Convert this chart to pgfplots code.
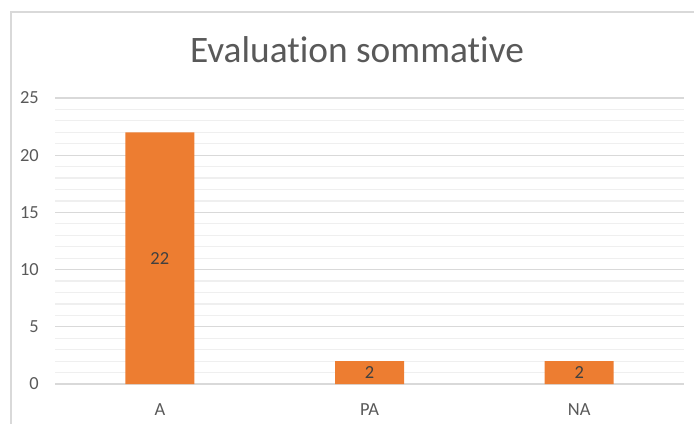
\documentclass[border=0pt]{standalone}
\usepackage{pgfplots}
\pgfplotsset{compat=1.18}
\usepackage{fontspec}
\setmainfont{Carlito}[Ligatures={NoCommon}]
\definecolor{barorange}{HTML}{ED7D31}
\definecolor{txtgray}{HTML}{595959}
\definecolor{lbldark}{HTML}{404040}
\definecolor{gridmaj}{HTML}{D9D9D9}
\definecolor{gridmin}{HTML}{EFEFEF}
\begin{document}
\begin{tikzpicture}[x=1bp,y=1bp]
\useasboundingbox (0,0) rectangle (694,423);
\draw[gridmaj, line width=1.3bp] (11,-2) -- (11,411) -- (696,411);
\node[txtgray, font=\fontsize{37.5}{42}\selectfont, anchor=base, inner sep=0pt] at (357,361) {Evaluation sommative};
\begin{axis}[
  at={(55bp,39bp)}, anchor=south west, scale only axis,
  width=629bp, height=286bp,
  xmin=-0.5, xmax=2.5, ymin=0, ymax=25,
  xtick={0,1,2}, xticklabels={A,PA,NA},
  ytick={0,5,...,25}, minor ytick={0,1,...,25},
  ymajorgrids, yminorgrids,
  major grid style={gridmaj, line width=1.2bp},
  minor grid style={gridmin, line width=1.2bp},
  axis line style={draw=none},
  major tick style={draw=none}, minor tick style={draw=none},
  tick label style={txtgray, font=\fontsize{18.5}{22}\selectfont, inner sep=0pt},
  /pgf/number format/assume math mode=true,
  yticklabel shift=16bp,
  xticklabel shift=19bp,
  clip=false,
]
\addplot[ybar, bar width=69bp, fill=barorange, draw=none] coordinates {(0,22) (1,2) (2,2)};
\addplot[draw=none, mark=none, nodes near coords, point meta=explicit symbolic,
  nodes near coords style={anchor=center, lbldark, font=\fontsize{18.5}{22}\selectfont, inner sep=0pt}]
  coordinates {(0,11)[22] (1,1)[2] (2,1)[2]};
\end{axis}
\end{tikzpicture}
\end{document}
